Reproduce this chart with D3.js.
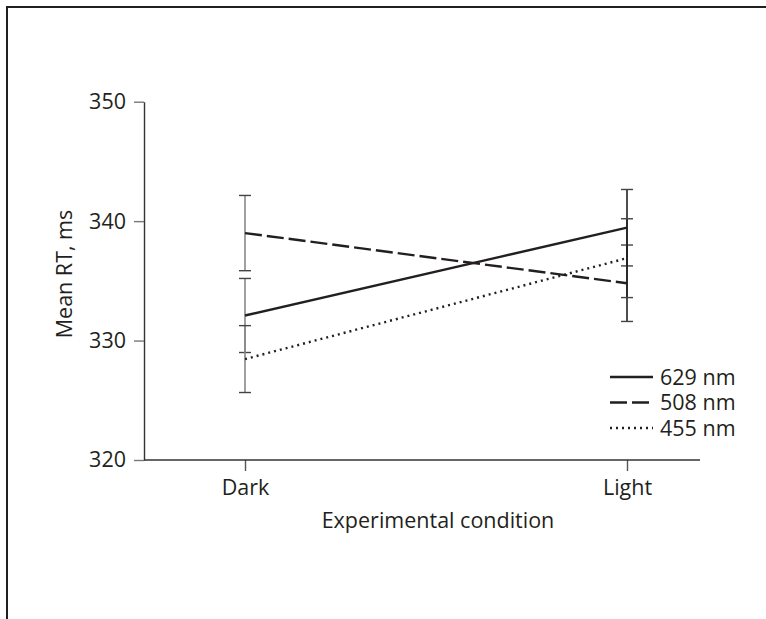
<html>
<head>
  <style>
    body { margin: 0; background: #fff; }
    svg text { font-family: "Open Sans", "Noto Sans", sans-serif; fill: #231f20; }
  </style>
</head>
<body>
  <div id="elm"></div>
  <script src="https://d3js.org/d3.v7.min.js"></script>
  <script>
    'use strict';

    var width = 766,
        height = 619;

    // data
    var conditions = ['Dark', 'Light'];
    var seriesNames = ['629 nm', '508 nm', '455 nm'];
    var means629 = [332.1, 339.45];
    var means508 = [339.0, 334.8];
    var means455 = [328.45, 336.9];
    var err629 = [3.1, 3.2];
    var err508 = [3.15, 3.2];
    var err455 = [2.8, 3.3];
    var yTicks = [320, 330, 340, 350];

    var series = [
      { name: seriesNames[0], means: means629, err: err629, dash: null },
      { name: seriesNames[1], means: means508, err: err508, dash: '17,5' },
      { name: seriesNames[2], means: means455, err: err455, dash: '2,4' }
    ];

    var fontSize = '21.5px';

    var svg = d3.select('#elm').append('svg')
      .attr('width', width).attr('height', height);

    // frame (top and left edges only)
    svg.append('path')
      .attr('d', 'M7,619V7H766')
      .attr('fill', 'none')
      .attr('stroke', '#231f20')
      .attr('stroke-width', 2);

    var x = d3.scalePoint().domain(conditions).range([245, 627]);
    var y = d3.scaleLinear().domain([320, 350]).range([460, 101.7]);

    var xLeft = 144, xRight = 700;

    // y axis
    var yAxis = svg.append('g')
      .attr('transform', 'translate(' + xLeft + ',0)')
      .call(d3.axisLeft(y).tickValues(yTicks).tickSize(10).tickPadding(8).tickSizeOuter(0));
    yAxis.select('.domain').attr('stroke', '#333').attr('stroke-width', 1.4);
    yAxis.selectAll('.tick line').attr('stroke', '#777').attr('stroke-width', 1.4);
    yAxis.selectAll('.tick text').style('font-size', fontSize).attr('fill', '#231f20');

    // x axis
    var xAxis = svg.append('g')
      .attr('transform', 'translate(0,' + y(320) + ')')
      .call(d3.axisBottom(x).tickSize(11).tickPadding(9));
    xAxis.select('.domain').remove();
    xAxis.append('line')
      .attr('x1', xLeft).attr('x2', xRight)
      .attr('stroke', '#333').attr('stroke-width', 1.4);
    xAxis.selectAll('.tick line').attr('stroke', '#555').attr('stroke-width', 1.4);
    xAxis.selectAll('.tick text').style('font-size', fontSize).attr('fill', '#231f20');

    // axis titles
    svg.append('text')
      .attr('x', 438).attr('y', 528)
      .attr('text-anchor', 'middle')
      .style('font-size', fontSize)
      .text('Experimental condition');

    svg.append('text')
      .attr('transform', 'translate(72,274) rotate(-90)')
      .attr('text-anchor', 'middle')
      .style('font-size', fontSize)
      .text('Mean RT, ms');

    // error bars
    var barColor = ['#888', '#222'];
    var capW = 6;
    series.forEach(function(s) {
      var g = svg.append('g');
      conditions.forEach(function(c, i) {
        var cx = x(c), lo = y(s.means[i] - s.err[i]), hi = y(s.means[i] + s.err[i]);
        g.append('line').attr('x1', cx).attr('x2', cx).attr('y1', lo).attr('y2', hi)
          .attr('stroke', barColor[i]).attr('stroke-width', 1.6);
        [lo, hi].forEach(function(yy) {
          g.append('line').attr('x1', cx - capW).attr('x2', cx + capW).attr('y1', yy).attr('y2', yy)
            .attr('stroke', '#444').attr('stroke-width', 1.4);
        });
      });
    });

    // series lines
    var line = d3.line()
      .x(function(d, i) { return x(conditions[i]); })
      .y(function(d) { return y(d); });

    series.forEach(function(s) {
      svg.append('path')
        .datum(s.means)
        .attr('d', line)
        .attr('fill', 'none')
        .attr('stroke', '#231f20')
        .attr('stroke-width', 2.4)
        .attr('stroke-dasharray', s.dash);
    });

    // legend
    var legend = svg.append('g').attr('transform', 'translate(610,377)');
    series.forEach(function(s, i) {
      var row = legend.append('g').attr('transform', 'translate(0,' + (i * 25.5) + ')');
      row.append('line')
        .attr('x1', 0).attr('x2', 43)
        .attr('stroke', '#231f20').attr('stroke-width', 2.4)
        .attr('stroke-dasharray', s.dash);
      row.append('text')
        .attr('x', 50).attr('dy', '0.35em')
        .style('font-size', fontSize)
        .text(s.name);
    });
  </script>
</body>
</html>
